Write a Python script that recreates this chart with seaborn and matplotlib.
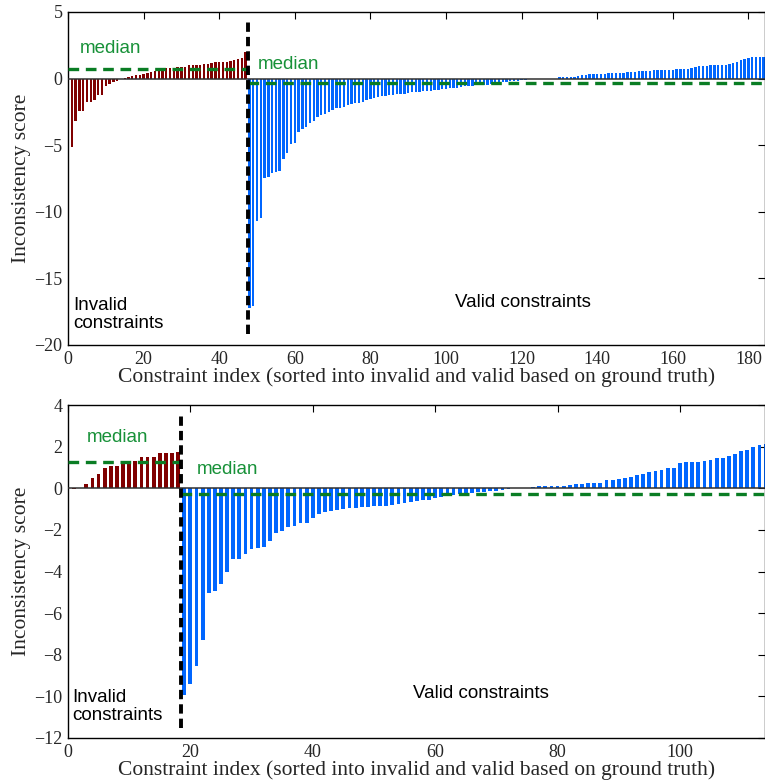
import numpy as np
import pandas as pd
import matplotlib
matplotlib.use("Agg")
import matplotlib.pyplot as plt
import seaborn as sns

# ---------------- data ----------------
top_invalid = [-5.1, -3.2, -2.4, -2.4, -1.78, -1.75, -1.62, -1.22, -1.2, -0.58,
               -0.4, -0.28, -0.18, -0.05, 0.08, 0.12, 0.23, 0.28, 0.3, 0.33,
               0.43, 0.5, 0.58, 0.68, 0.73, 0.8, 0.8, 0.83, 0.85, 0.88,
               0.9, 1.0, 1.03, 1.03, 1.05, 1.1, 1.13, 1.15, 1.23, 1.25,
               1.25, 1.25, 1.33, 1.38, 1.5, 1.55, 2.0]
top_valid = [-17.2, -17.1, -10.7, -10.5, -7.5, -7.4, -7.1, -7.0, -6.9, -6.0,
             -5.6, -4.9, -4.8, -4.0, -3.8, -3.6, -3.3, -3.15, -2.9, -2.76,
             -2.66, -2.5, -2.33, -2.23, -2.2, -2.15, -2.0, -1.9, -1.85, -1.8,
             -1.78, -1.58, -1.5, -1.43, -1.38, -1.33, -1.3, -1.25, -1.2, -1.15,
             -1.13, -1.12, -1.1, -1.03, -1.0, -0.98, -0.95, -0.93, -0.9, -0.88,
             -0.83, -0.8, -0.78, -0.73, -0.7, -0.68, -0.63, -0.58, -0.55, -0.53,
             -0.5, -0.5, -0.48, -0.45, -0.4, -0.37, -0.33, -0.28, -0.25, -0.21,
             -0.18, -0.15, -0.11, -0.08, -0.06, -0.03,
             0.0, 0.0, 0.0, 0.0, 0.0, 0.0,
             0.13, 0.1, 0.1, 0.1, 0.1, 0.18, 0.25, 0.25, 0.35, 0.38,
             0.38, 0.38, 0.38, 0.45, 0.45, 0.45, 0.45, 0.45, 0.48, 0.48,
             0.5, 0.55, 0.55, 0.55, 0.6, 0.63, 0.63, 0.65, 0.68, 0.68,
             0.68, 0.7, 0.73, 0.73, 0.75, 0.8, 0.88, 0.93, 0.93, 0.95,
             1.0, 1.05, 1.05, 1.05, 1.05, 1.08, 1.2, 1.25, 1.38, 1.45,
             1.55, 1.6, 1.6, 1.6, 1.63]
bottom_invalid = [-0.06, 0.0, 0.19, 0.5, 0.67, 0.98, 1.07, 1.08, 1.18, 1.23,
                  1.33, 1.48, 1.52, 1.52, 1.67, 1.68, 1.71, 1.74]
bottom_valid = [-9.94, -9.41, -8.54, -7.31, -5.05, -4.92, -4.62, -4.04, -3.38, -3.38,
                -3.17, -2.9, -2.85, -2.84, -2.53, -2.16, -2.05, -1.86, -1.83, -1.68,
                -1.67, -1.41, -1.25, -1.15, -1.07, -1.04, -1.01, -0.96, -0.95, -0.91,
                -0.88, -0.87, -0.85, -0.83, -0.8, -0.75, -0.72, -0.67, -0.6, -0.56,
                -0.55, -0.48, -0.4, -0.37, -0.32, -0.3, -0.27, -0.22, -0.18, -0.16,
                -0.15, -0.12, -0.1, -0.02,
                0.0, 0.0, 0.0,
                0.05, 0.1, 0.11, 0.11, 0.11, 0.11, 0.14, 0.19, 0.21, 0.24,
                0.24, 0.24, 0.38, 0.42, 0.45, 0.48, 0.54, 0.62, 0.7, 0.79,
                0.83, 0.88, 0.95, 0.98, 1.2, 1.25, 1.28, 1.28, 1.33, 1.36,
                1.43, 1.47, 1.54, 1.65, 1.81, 1.84, 1.96, 2.08, 2.15]
top_medians = [0.7, -0.35]        # invalid, valid
bottom_medians = [1.28, -0.27]
top_yticks = [5, 0, -5, -10, -15, -20]
bottom_yticks = [4, 2, 0, -2, -4, -6, -8, -10, -12]
top_xticks = [0, 20, 40, 60, 80, 100, 120, 140, 160, 180]
bottom_xticks = [0, 20, 40, 60, 80, 100]
group_names = ["invalid", "valid"]

XLABEL = "Constraint index (sorted into invalid and valid based on ground truth)"
YLABEL = "Inconsistency score"

RED = "#800000"
BLUE = "#0066ff"
GREEN_LINE = "#0a7d24"
GREEN_TEXT = "#179138"

sns.set_theme(style="white")
plt.rcParams["font.family"] = ["Liberation Serif", "DejaVu Serif"]
plt.rcParams["axes.unicode_minus"] = True

W, H = 765, 784
fig = plt.figure(figsize=(W / 100, H / 100), dpi=100)


def make_frame(inv, val):
    n = len(inv) + len(val)
    return pd.DataFrame({
        "index": np.arange(1, n + 1),
        "score": list(inv) + list(val),
        "group": [group_names[0]] * len(inv) + [group_names[1]] * len(val),
    })


def panel(rect, inv, val, medians, ylim, yticks, xticks, xmax, txt):
    ax = fig.add_axes(rect)
    df = make_frame(inv, val)
    sns.barplot(data=df, x="index", y="score", hue="group",
                palette={group_names[0]: RED, group_names[1]: BLUE},
                saturation=1, native_scale=True, dodge=False, width=0.62,
                errorbar=None, legend=False, linewidth=0, ax=ax)
    split = len(inv) + 0.5
    ax.axhline(0, color="#303030", lw=1.1, zorder=3)
    ax.hlines(medians[0], 0, split, colors=GREEN_LINE, lw=2.4,
              linestyles=(0, (3.2, 2.0)), zorder=4)
    ax.hlines(medians[1], split, xmax, colors=GREEN_LINE, lw=2.4,
              linestyles=(0, (3.2, 2.0)), zorder=4)
    ax.vlines(split, txt["div"][0], txt["div"][1], colors="black", lw=2.8,
              linestyles=(0, (2.4, 1.3)), zorder=5)
    ax.set_xlim(0, xmax)
    ax.set_ylim(*ylim)
    ax.set_xticks(xticks)
    ax.set_yticks(yticks)
    ax.set_xlabel(XLABEL, fontsize=15.5, labelpad=0)
    ax.set_ylabel(YLABEL, fontsize=15.5, labelpad=2)
    ax.tick_params(direction="in", top=True, right=True, length=5, width=0.8,
                   labelsize=13, pad=4, color="black")
    for s in ax.spines.values():
        s.set_color("black")
        s.set_linewidth(1.0)
    sans = ["Liberation Sans", "DejaVu Sans"]
    ax.text(txt["m1"][0], txt["m1"][1], "median", color=GREEN_TEXT,
            fontsize=13.5, family=sans, va="center", ha="left")
    ax.text(txt["m2"][0], txt["m2"][1], "median", color=GREEN_TEXT,
            fontsize=13.5, family=sans, va="center", ha="left")
    ax.text(txt["inv"][0], txt["inv"][1], "Invalid\nconstraints", color="black",
            fontsize=13.5, family=sans, va="center", ha="left", linespacing=1.1)
    ax.text(txt["val"][0], txt["val"][1], "Valid constraints", color="black",
            fontsize=13.5, family=sans, va="center", ha="left")
    return ax


top_rect = [68 / W, 1 - 345 / H, (W - 68) / W, 333 / H]
bot_rect = [68 / W, 1 - 738 / H, (W - 68) / W, 333 / H]

panel(top_rect, top_invalid, top_valid, top_medians, (-20, 5), top_yticks,
      top_xticks, 184.4,
      {"div": (-19.2, 4.3), "m1": (3.2, 2.28), "m2": (50.3, 1.08),
       "inv": (1.3, -17.7), "val": (102.4, -16.8)})
panel(bot_rect, bottom_invalid, bottom_valid, bottom_medians, (-12, 4),
      bottom_yticks, bottom_xticks, 113.9,
      {"div": (-11.5, 3.5), "m1": (3.0, 2.42), "m2": (21.0, 0.88),
       "inv": (0.7, -10.5), "val": (56.4, -9.84)})

fig.savefig("out.png", dpi=100)
